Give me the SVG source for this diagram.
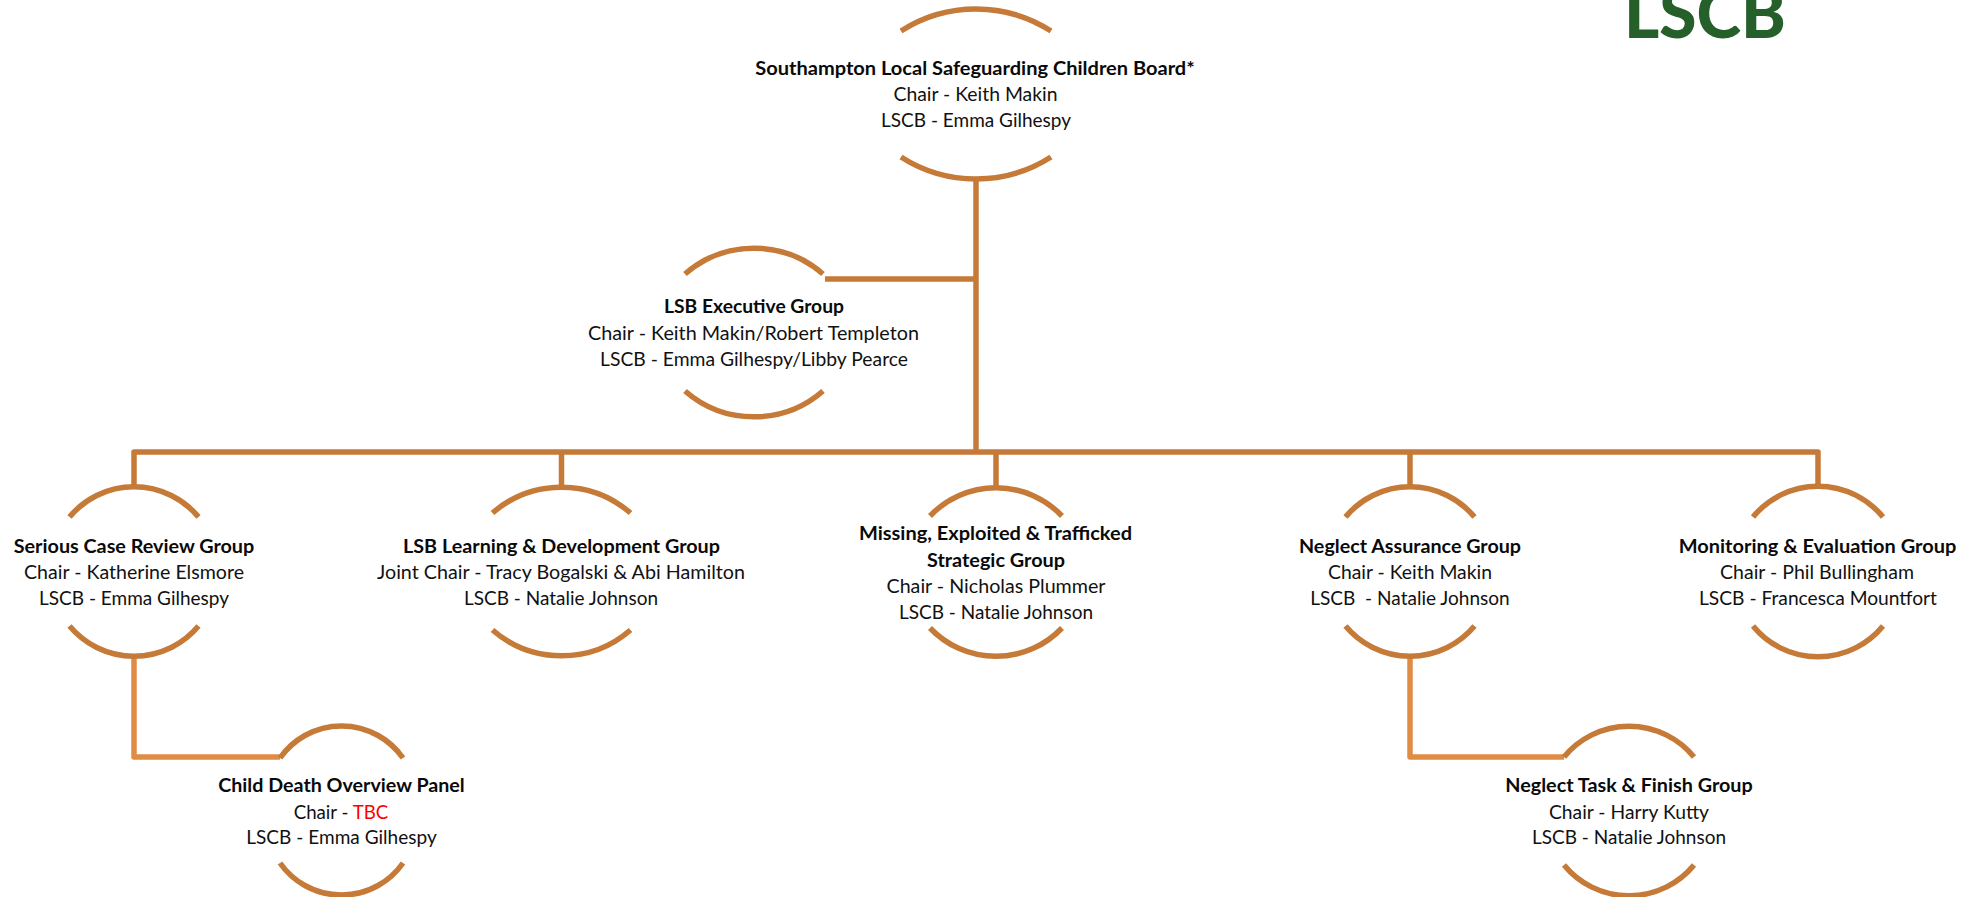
<svg xmlns="http://www.w3.org/2000/svg" width="1981" height="897" viewBox="0 0 1981 897">
<style>
text{font-family:"Lato","Open Sans",sans-serif;font-size:18.5px;fill:#111;text-anchor:middle}
.b{font-weight:700;fill:#0a0a0a}
.arc{fill:none;stroke:#C67A38;stroke-width:5.5}
.con{fill:none;stroke:#C67A38;stroke-width:5.5;stroke-linejoin:round}
.con2{fill:none;stroke:#E08C45;stroke-width:5.5;stroke-linejoin:round}
.logo{font-family:"Lato",sans-serif;font-weight:900;font-size:68px;fill:#25602B}
</style>
<rect width="1981" height="897" fill="#fff"/>
<g id="connectors">
<path class="con" d="M976 178V452"/>
<path class="con" d="M825 279H976"/>
<path class="con" d="M134 487V452H1818V487"/>
<path class="con" d="M561.5 452V487"/>
<path class="con" d="M996 452V487"/>
<path class="con" d="M1410 452V487"/>
<path class="con2" d="M134 657V757H280"/>
<path class="con2" d="M1410 657V757H1564"/>
</g>
<g id="logo"><text class="logo" x="1705" y="38" textLength="162" lengthAdjust="spacingAndGlyphs">LSCB</text></g>
<g id="node-board">
<path class="arc" d="M901 31A139 139 0 0 1 1051 31"/>
<path class="arc" d="M901 157A139 139 0 0 0 1051 157"/>
<text class="b" x="975" y="75" textLength="439.500" lengthAdjust="spacingAndGlyphs">Southampton Local Safeguarding Children Board*</text>
<text x="975.500" y="101" textLength="164" lengthAdjust="spacingAndGlyphs">Chair - Keith Makin</text>
<text x="976" y="127" textLength="190" lengthAdjust="spacingAndGlyphs">LSCB - Emma Gilhespy</text>
</g>
<g id="node-executive">
<path class="arc" d="M685 274A105 105 0 0 1 823 274"/>
<path class="arc" d="M685 391A105 105 0 0 0 823 391"/>
<text class="b" x="754" y="313" textLength="180" lengthAdjust="spacingAndGlyphs">LSB Executive Group</text>
<text x="753.500" y="340" textLength="331" lengthAdjust="spacingAndGlyphs">Chair - Keith Makin/Robert Templeton</text>
<text x="754" y="366" textLength="308" lengthAdjust="spacingAndGlyphs">LSCB - Emma Gilhespy/Libby Pearce</text>
</g>
<g id="node-serious-case">
<path class="arc" d="M69.500 517A84 84 0 0 1 198.500 517"/>
<path class="arc" d="M69.500 626A84 84 0 0 0 198.500 626"/>
<text class="b" x="134" y="553" textLength="240.500" lengthAdjust="spacingAndGlyphs">Serious Case Review Group</text>
<text x="134" y="579" textLength="220" lengthAdjust="spacingAndGlyphs">Chair - Katherine Elsmore</text>
<text x="134" y="605" textLength="190" lengthAdjust="spacingAndGlyphs">LSCB - Emma Gilhespy</text>
</g>
<g id="node-learning">
<path class="arc" d="M492.500 513A105 105 0 0 1 630.500 513"/>
<path class="arc" d="M492.500 630A105 105 0 0 0 630.500 630"/>
<text class="b" x="561.500" y="553" textLength="317" lengthAdjust="spacingAndGlyphs">LSB Learning &amp; Development Group</text>
<text x="561" y="579" textLength="368" lengthAdjust="spacingAndGlyphs">Joint Chair - Tracy Bogalski &amp; Abi Hamilton</text>
<text x="561" y="605" textLength="194" lengthAdjust="spacingAndGlyphs">LSCB - Natalie Johnson</text>
</g>
<g id="node-missing">
<path class="arc" d="M930 516A91 91 0 0 1 1062 516"/>
<path class="arc" d="M930 628A91 91 0 0 0 1062 628"/>
<text class="b" x="995.500" y="540" textLength="273" lengthAdjust="spacingAndGlyphs">Missing, Exploited &amp; Trafficked</text>
<text class="b" x="996" y="566.500" textLength="138" lengthAdjust="spacingAndGlyphs">Strategic Group</text>
<text x="996" y="592.500" textLength="219" lengthAdjust="spacingAndGlyphs">Chair - Nicholas Plummer</text>
<text x="996" y="619" textLength="194" lengthAdjust="spacingAndGlyphs">LSCB - Natalie Johnson</text>
</g>
<g id="node-neglect-assurance">
<path class="arc" d="M1345.500 517A84 84 0 0 1 1474.500 517"/>
<path class="arc" d="M1345.500 626A84 84 0 0 0 1474.500 626"/>
<text class="b" x="1410" y="553" textLength="222" lengthAdjust="spacingAndGlyphs">Neglect Assurance Group</text>
<text x="1410" y="579" textLength="164" lengthAdjust="spacingAndGlyphs">Chair - Keith Makin</text>
<text x="1410" y="605" textLength="199.500" lengthAdjust="spacingAndGlyphs" xml:space="preserve">LSCB  - Natalie Johnson</text>
</g>
<g id="node-monitoring">
<path class="arc" d="M1753 517A84 84 0 0 1 1883 517"/>
<path class="arc" d="M1753 626A84 84 0 0 0 1883 626"/>
<text class="b" x="1817.500" y="553" textLength="277.500" lengthAdjust="spacingAndGlyphs">Monitoring &amp; Evaluation Group</text>
<text x="1817" y="579" textLength="194" lengthAdjust="spacingAndGlyphs">Chair - Phil Bullingham</text>
<text x="1818" y="605" textLength="238" lengthAdjust="spacingAndGlyphs">LSCB - Francesca Mountfort</text>
</g>
<g id="node-child-death">
<path class="arc" d="M280 758A75 75 0 0 1 403 758"/>
<path class="arc" d="M280 863A75 75 0 0 0 403 863"/>
<text class="b" x="341.500" y="792" textLength="246.500" lengthAdjust="spacingAndGlyphs">Child Death Overview Panel</text>
<text x="341" y="818.500" textLength="94.700" lengthAdjust="spacingAndGlyphs">Chair - <tspan fill="#FF0000">TBC</tspan></text>
<text x="341.500" y="844" textLength="190.500" lengthAdjust="spacingAndGlyphs">LSCB - Emma Gilhespy</text>
</g>
<g id="node-neglect-task">
<path class="arc" d="M1564 757A84 84 0 0 1 1694 757"/>
<path class="arc" d="M1564 865A84 84 0 0 0 1694 865"/>
<text class="b" x="1629" y="792" textLength="247.500" lengthAdjust="spacingAndGlyphs">Neglect Task &amp; Finish Group</text>
<text x="1629" y="818.500" textLength="160" lengthAdjust="spacingAndGlyphs">Chair - Harry Kutty</text>
<text x="1629" y="844" textLength="194" lengthAdjust="spacingAndGlyphs">LSCB - Natalie Johnson</text>
</g>
</svg>
